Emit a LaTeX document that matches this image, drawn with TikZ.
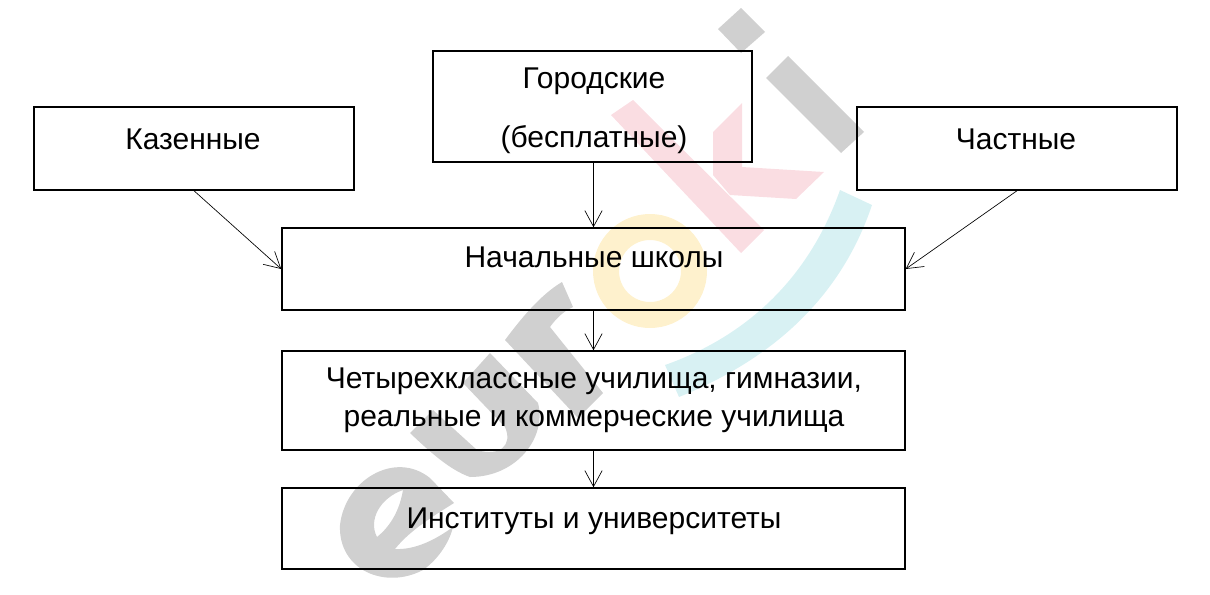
\documentclass[tikz,border=0pt]{standalone}
\usepackage{fontspec}
\setmainfont{Liberation Sans}
\usetikzlibrary{arrows.meta}
\definecolor{wmgray}{RGB}{208,208,208}
\definecolor{wmpink}{RGB}{250,221,226}
\definecolor{wmyellow}{RGB}{254,241,205}
\definecolor{wmcyan}{RGB}{216,241,243}
\tikzset{
  boxnode/.style 2 args={draw=black,line width=1.1pt,inner sep=0pt,minimum width={#1*0.75pt},minimum height={#2*0.75pt}},
  lab/.style={font=\fontsize{22.5}{26}\selectfont,inner sep=0pt,anchor=base,text=black},
  conn/.style={draw=black,line width=0.5pt,-{Straight Barb[length=12pt,width=13pt,line width=0.5pt]}}
}
\begin{document}
\begin{tikzpicture}[x=0.75pt,y=-0.75pt]
\useasboundingbox (0,0) rectangle (1210,594);
% faint picture-wide lettering
\fill[wmgray] (741,8)--(765,32)--(741,53)--(718,29)--cycle;
\fill[wmgray] (788,56)--(864,132)--(841,153)--(766,78)--cycle;
\fill[wmpink] (633,100)--(764,230)--(741,253)--(611,115)--cycle;
\fill[wmpink] (742,103)--(742,167)--(824,172)--(796,199)--(730,195)--(713,175)--(713,132)--cycle;
\fill[wmyellow,even odd rule] (650,271) circle [radius=57] (650,271) circle [radius=31];
\fill[wmcyan] (840,190) -- (872,205) .. controls (840,300) and (770,360) .. (679,397) -- (665,365) .. controls (750,335) and (810,275) .. (840,190) -- cycle;
% r
\fill[wmgray] (505,340) .. controls (520,320) and (540,295) .. (562,282) -- (573,307) .. controls (562,312) and (555,320) .. (550,327) -- (603,393) -- (578,418) -- cycle;
% u
\fill[wmgray] (490,353) -- (538,403) .. controls (547,437) and (517,477) .. (470,477) .. controls (450,470) and (430,452) .. (410,433) -- (433,410) -- (477,450) .. controls (500,457) and (513,445) .. (505,427) -- (463,383) -- cycle;
% e
\fill[wmgray,even odd rule] (430,478) .. controls (395,450) and (345,480) .. (340,525) .. controls (338,570) and (385,590) .. (423,570) .. controls (440,558) and (450,540) .. (453,527) .. controls (435,540) and (415,550) .. (395,549) .. controls (410,530) and (435,515) .. (454,503) -- cycle
  (403,490) .. controls (380,498) and (368,520) .. (377,537) .. controls (392,525) and (400,508) .. (403,490) -- cycle;
% boxes
\node[boxnode={320}{83}] (kaz) at (194,148.5) {};
\node[boxnode={319}{111}] (gor) at (592.5,106.5) {};
\node[boxnode={320}{83}] (cha) at (1017,148.5) {};
\node[boxnode={623}{82}] (nach) at (593.5,269) {};
\node[boxnode={623}{99}] (chet) at (593.5,400.5) {};
\node[boxnode={623}{81}] (inst) at (593.5,528.5) {};
% texts
\node[lab] (t1) at (193,149) {Казенные};
\node[lab] (t2) at (594,88) {Городские};
\node[lab] (t3) at (594,147) {(бесплатные)};
\node[lab] (t4) at (1016,149) {Частные};
\node[lab] (t5) at (594,267) {Начальные школы};
\node[lab] (t6) at (594,388) {Четырехклассные училища, гимназии,};
\node[lab] (t7) at (594,426) {реальные и коммерческие училища};
\node[lab] (t8) at (594,528) {Институты и университеты};
% connectors
\draw[conn] (kaz.south) -- (nach.west);
\draw[conn] (cha.south) -- (nach.east);
\draw[conn] (gor.south -| nach.north) -- (nach.north);
\draw[conn] (nach.south) -- (chet.north);
\draw[conn] (chet.south) -- (inst.north);
\end{tikzpicture}
\end{document}
